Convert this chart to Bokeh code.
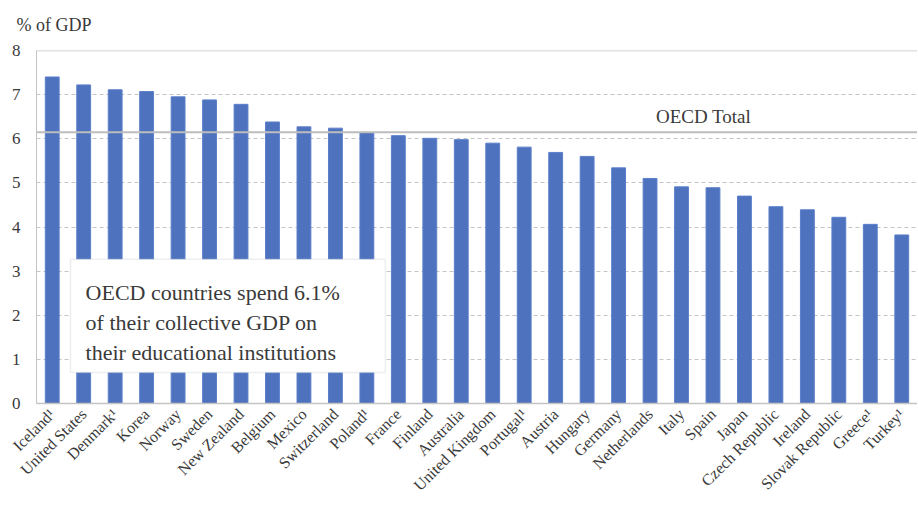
from bokeh.plotting import figure
from bokeh.models import Span, Label, BoxAnnotation, FactorRange, Range1d, FixedTicker
from bokeh.embed import file_html
from bokeh.resources import INLINE

countries = ["Iceland¹", "United States", "Denmark¹", "Korea", "Norway", "Sweden",
             "New Zealand", "Belgium", "Mexico", "Switzerland", "Poland¹", "France",
             "Finland", "Australia", "United Kingdom", "Portugal¹", "Austria", "Hungary",
             "Germany", "Netherlands", "Italy", "Spain", "Japan", "Czech Republic",
             "Ireland", "Slovak Republic", "Greece¹", "Turkey¹"]
spending = [7.40, 7.22, 7.11, 7.07, 6.95, 6.88, 6.78, 6.38, 6.27, 6.24, 6.14, 6.07,
            6.01, 5.98, 5.90, 5.81, 5.69, 5.60, 5.34, 5.10, 4.91, 4.89, 4.70, 4.46,
            4.39, 4.22, 4.06, 3.82]
oecd_total = 6.15
y_ticks = [0, 1, 2, 3, 4, 5, 6, 7, 8]
note_lines = ["OECD countries spend 6.1%", "of their collective GDP on",
              "their educational institutions"]

FONT = "Liberation Serif"
TXT = "#3a3a3a"
GRID = "#c4c4c4"

p = figure(x_range=FactorRange(*countries, range_padding=0), y_range=Range1d(0, 8),
           width=917, height=504, output_backend="svg", toolbar_location=None,
           min_border_left=36, min_border_top=50, min_border_bottom=101, min_border_right=0)
p.outline_line_color = None
p.background_fill_color = "white"

p.title.text = "% of GDP"
p.title.align = "left"
p.title.vertical_align = "top"
p.title.offset = -20
p.title.standoff = 27
p.title.text_font = FONT
p.title.text_font_size = "18px"
p.title.text_font_style = "normal"
p.title.text_color = TXT

p.vbar(x=countries, top=spending, width=0.44, fill_color="#4e72be", line_color="#5b7fca", line_width=1)

# axes
p.yaxis.ticker = FixedTicker(ticks=y_ticks)
p.yaxis.major_tick_line_color = None
p.yaxis.minor_tick_line_color = None
p.yaxis.axis_line_color = GRID
p.yaxis.major_label_text_font = FONT
p.yaxis.major_label_text_font_size = "17px"
p.yaxis.major_label_text_color = TXT
p.yaxis.major_label_standoff = 10

p.xaxis.major_tick_line_color = None
p.xaxis.axis_line_color = GRID
p.xaxis.axis_line_width = 1.5
p.xaxis.major_label_orientation = 0.785
p.xaxis.major_label_text_font = FONT
p.xaxis.major_label_text_font_size = "16px"
p.xaxis.major_label_text_color = TXT
p.xaxis.major_label_standoff = 2

p.xgrid.grid_line_color = None
p.ygrid.grid_line_color = GRID
p.ygrid.grid_line_dash = "4 3"
p.ygrid.grid_line_width = 1

p.add_layout(Span(location=y_ticks[-1], dimension="width", line_color=GRID, line_width=1.5))
p.add_layout(Span(location=oecd_total, dimension="width", line_color="#bdbdbd", line_width=2))

p.add_layout(Label(x=21.2, y=oecd_total, y_offset=5, text="OECD Total", text_align="center",
                   text_baseline="bottom", text_font=FONT, text_font_size="19px", text_color=TXT))

p.add_layout(BoxAnnotation(left=1.08, right=11.09, bottom=0.70, top=3.27,
                           fill_color="white", fill_alpha=1.0,
                           line_color="#c2c6cc", line_width=1.5))
for i, line in enumerate(note_lines):
    p.add_layout(Label(x=1.56, y=2.52 - 0.68 * i, text=line, text_align="left",
                       text_baseline="alphabetic", text_font=FONT, text_font_size="22px",
                       text_color=TXT))

open("out.html", "w").write(file_html(p, INLINE))
